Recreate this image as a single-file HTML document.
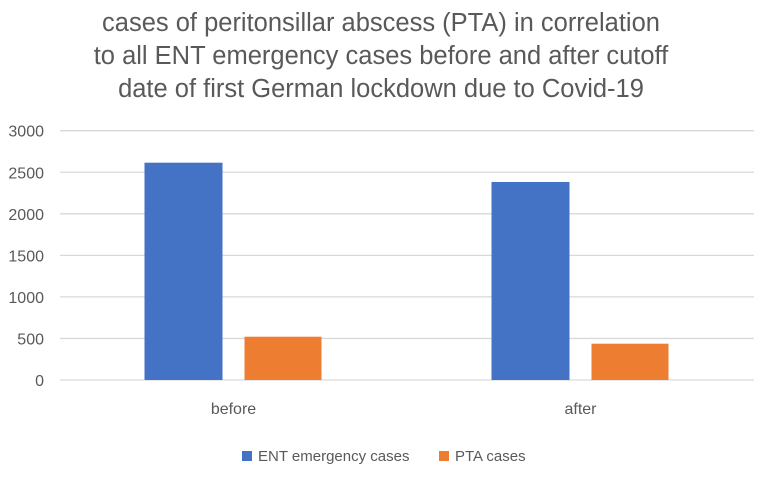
<!DOCTYPE html>
<html><head><meta charset="utf-8"><style>
body{margin:0;background:#fff;font-family:"Liberation Sans",sans-serif;}
</style></head><body>
<svg id="c" width="762" height="475" xmlns="http://www.w3.org/2000/svg">
<g font-size="25.5" fill="#595959" text-anchor="middle">
<text x="381" y="31">cases of peritonsillar abscess (PTA) in correlation</text>
<text x="381" y="64">to all ENT emergency cases before and after cutoff</text>
<text x="381" y="97">date of first German lockdown due to Covid-19</text>
</g>
<g id="grid"></g><g id="bars"></g><g id="labels"></g>
<g font-size="15" fill="#595959">
<rect x="242" y="451" width="10" height="10" fill="#4472C4"/>
<text x="258" y="461">ENT emergency cases</text>
<rect x="439" y="451" width="10" height="10" fill="#ED7D31"/>
<text x="455" y="461">PTA cases</text>
</g>
</svg>
<script>
const categories=["before","after"];
const entValues=[2615,2383];
const ptaValues=[521,437];
const yTicks=[0,500,1000,1500,2000,2500,3000];
const ns="http://www.w3.org/2000/svg";
const x0=60,x1=754,y0=380,yTop=130.7,yMax=3000;
const yS=v=>y0-(v/yMax)*(y0-yTop);
const bw=(x1-x0)/categories.length;
function mk(t,a,p){const e=document.createElementNS(ns,t);for(const k in a)e.setAttribute(k,a[k]);document.getElementById(p).appendChild(e);return e;}
yTicks.forEach(v=>{
 const l=mk('line',{x1:x0,x2:x1,y1:yS(v),y2:yS(v),stroke:'#d9d9d9','stroke-width':1.3},'grid');
 
 
 const t=mk('text',{x:44,y:yS(v)+6,'text-anchor':'end','font-size':16,fill:'#595959'},'labels');
 
 
 t.textContent=v;
});
categories.forEach((c,i)=>{
 const cx=x0+bw*(i+0.5);
 const b=mk('rect',{x:cx-89,y:yS(entValues[i]),width:78,height:y0-yS(entValues[i]),fill:'#4472C4'},'bars');
 
 
 const o=mk('rect',{x:cx+11,y:yS(ptaValues[i]),width:77,height:y0-yS(ptaValues[i]),fill:'#ED7D31'},'bars');
 
 
 const t=mk('text',{x:cx,y:414,'text-anchor':'middle','font-size':16,fill:'#595959'},'labels');
 
 
 t.textContent=c;
});
</script>
</body></html>
